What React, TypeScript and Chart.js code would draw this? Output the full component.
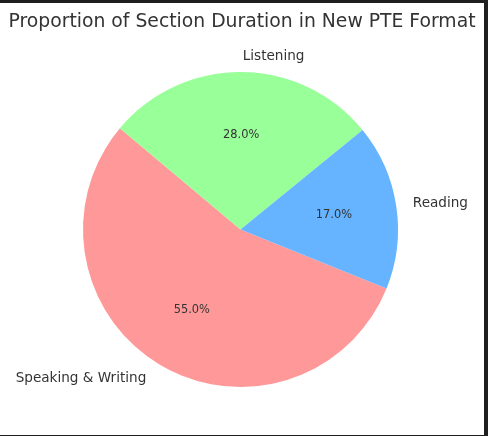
import React, { useEffect, useRef } from "react";
import { Chart, registerables } from "chart.js";

Chart.register(...registerables);

const TITLE = "Proportion of Section Duration in New PTE Format";
const CATEGORIES = ["Speaking & Writing", "Listening", "Reading"];
const SHARES = [55, 28, 17];
const COLORS = ["#ff9999", "#99ff99", "#66b3ff"];

const TEXT_COLOR = "#333333";
const FONT = "'DejaVu Sans', sans-serif";

const pieText = {
  id: "pieText",
  afterDatasetsDraw(chart: any) {
    const ctx = chart.ctx;
    const meta = chart.getDatasetMeta(0);
    const total = SHARES.reduce((a, b) => a + b, 0);
    ctx.save();
    ctx.fillStyle = TEXT_COLOR;
    // title
    ctx.font = `18.8px ${FONT}`;
    ctx.textAlign = "center";
    ctx.textBaseline = "alphabetic";
    ctx.fillText(TITLE, chart.width / 2, 23.7);
    meta.data.forEach((arc: any, i: number) => {
      const mid = (arc.startAngle + arc.endAngle) / 2;
      const r = arc.outerRadius;
      const cosA = Math.cos(mid);
      const sinA = Math.sin(mid);
      // percentage at 0.6 r
      ctx.font = `11.4px ${FONT}`;
      ctx.textAlign = "center";
      ctx.textBaseline = "middle";
      const pct = ((SHARES[i] / total) * 100).toFixed(1) + "%";
      ctx.fillText(pct, arc.x + cosA * r * 0.6, arc.y + sinA * r * 0.6);
      // category label at 1.1 r
      ctx.font = `13.6px ${FONT}`;
      const right = arc.x + cosA * r * 1.1 > arc.x;
      const lx = arc.x + cosA * r * 1.1 + (right ? 1 : -5);
      const ly = arc.y + sinA * r * 1.1;
      ctx.textAlign = right ? "left" : "right";
      ctx.fillText(CATEGORIES[i], lx, ly);
    });
    ctx.restore();
  },
};

export default function App() {
  const ref = useRef<HTMLCanvasElement | null>(null);
  useEffect(() => {
    if (!ref.current) return;
    const chart = new Chart(ref.current, {
      type: "pie",
      data: {
        labels: CATEGORIES,
        datasets: [
          {
            data: SHARES,
            backgroundColor: COLORS,
            borderWidth: 0,
          },
        ],
      },
      options: {
        animation: false,
        responsive: false,
        rotation: 112,
        events: [],
        layout: { padding: { left: 83, right: 86, top: 69, bottom: 48 } },
        plugins: {
          legend: { display: false },
          tooltip: { enabled: false },
          title: { display: false },
        },
      },
      plugins: [pieText],
    });
    return () => chart.destroy();
  }, []);
  return (
    <div
      style={{
        position: "fixed",
        left: 0,
        top: 0,
        width: 488,
        height: 436,
        background: "#1f1f1f",
      }}
    >
      <div
        style={{
          position: "absolute",
          left: 0,
          top: 3,
          width: 484,
          height: 432,
          background: "#ffffff",
        }}
      >
        <canvas ref={ref} width={484} height={432} style={{ display: "block" }} />
      </div>
    </div>
  );
}
